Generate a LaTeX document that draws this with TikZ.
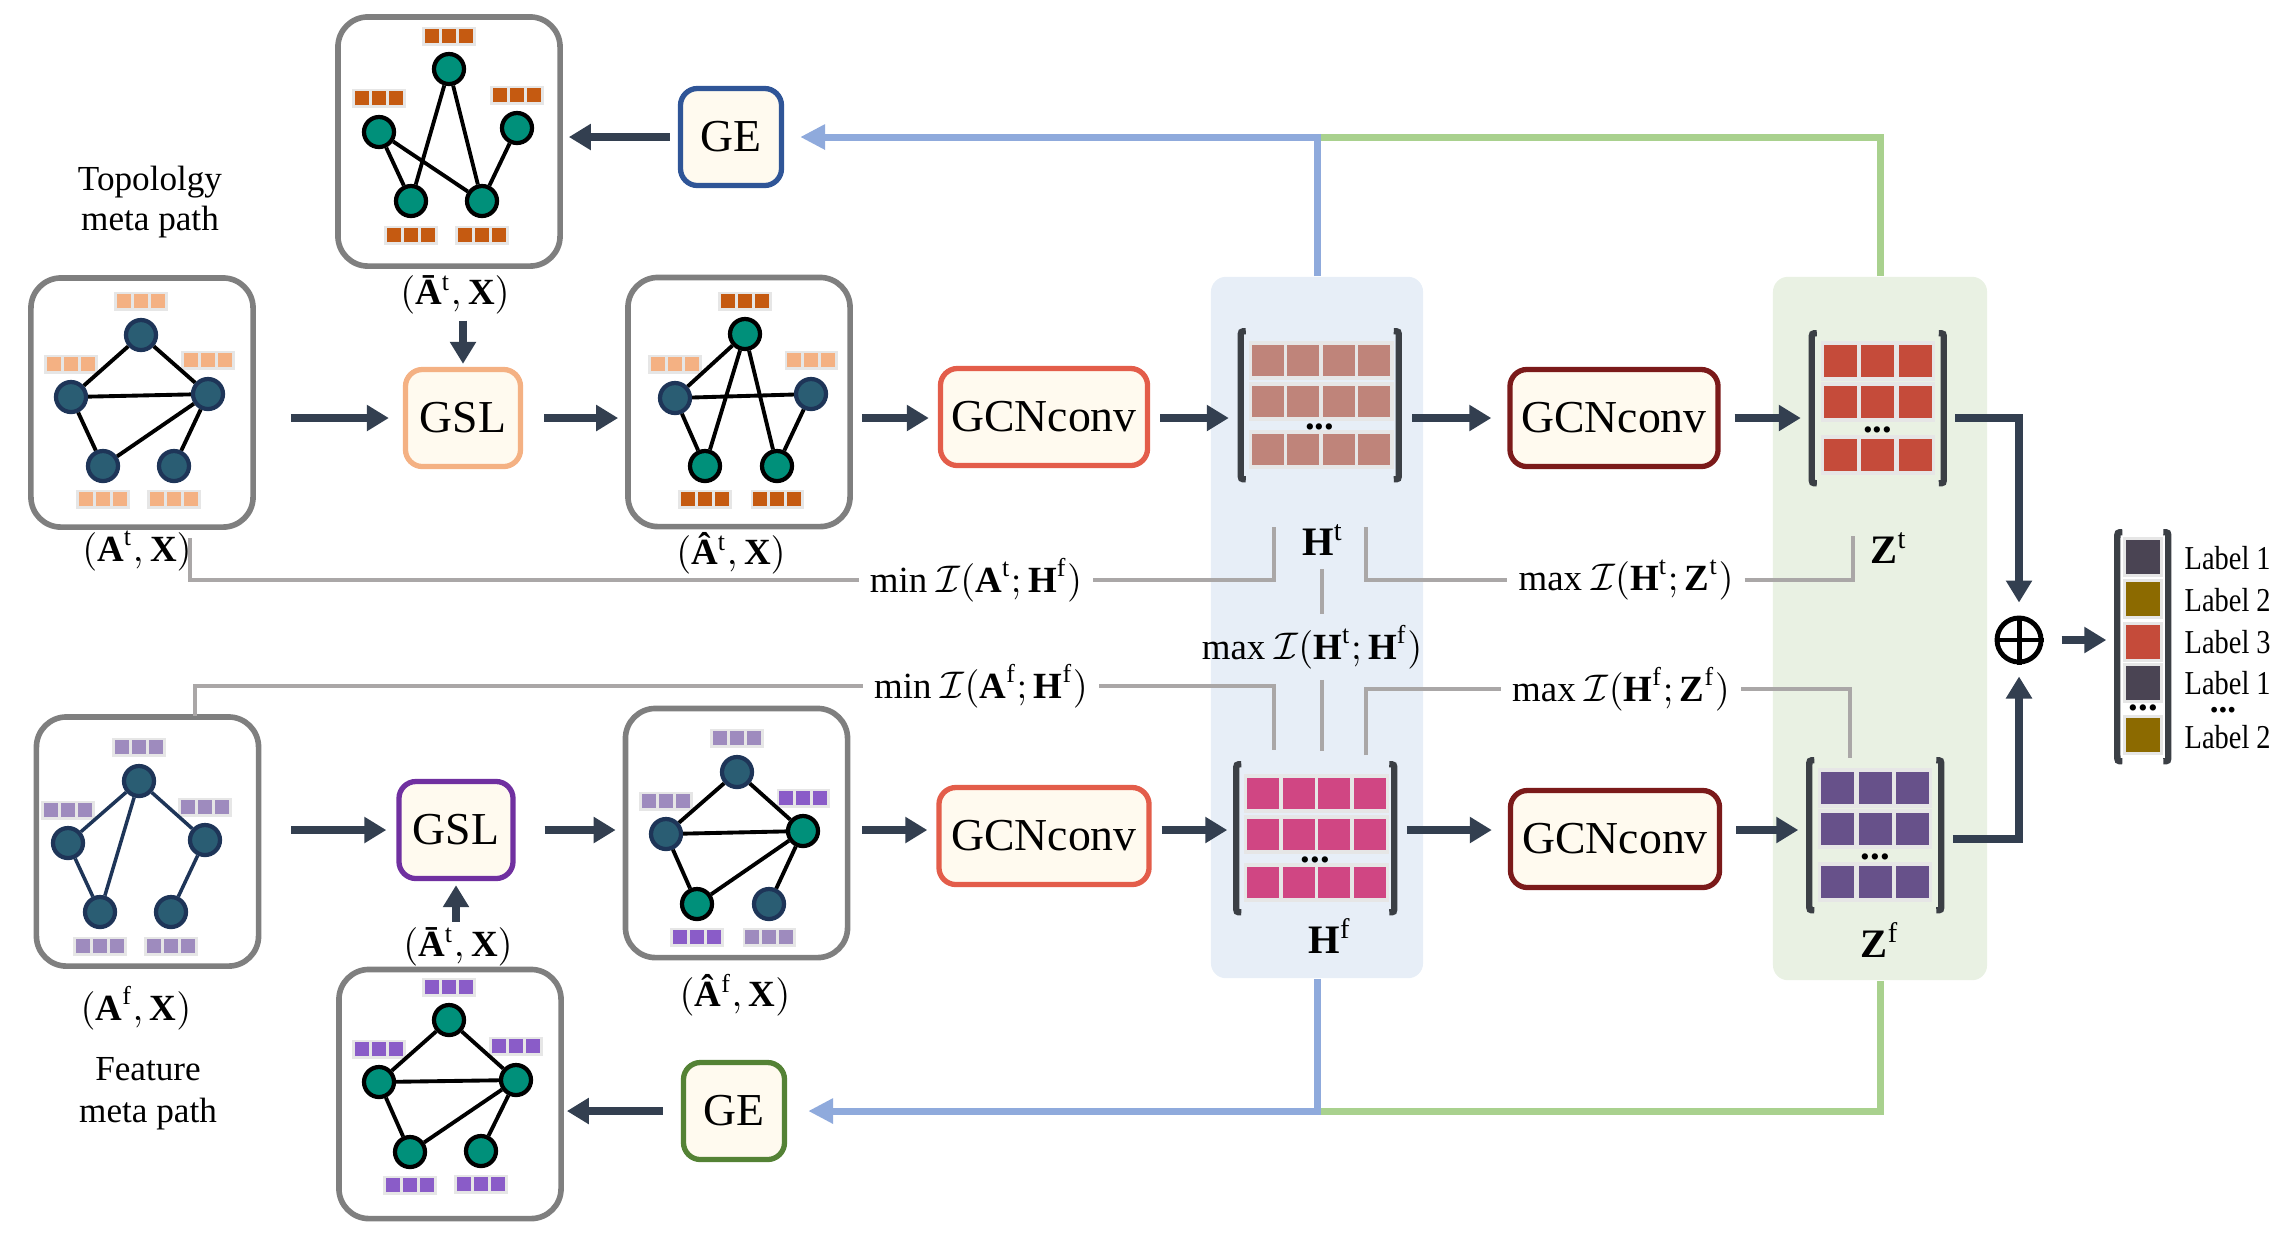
\documentclass[tikz,border=0pt]{standalone}
\usepackage{amsmath,amssymb}
\usepackage{fontspec}
\setmainfont{Liberation Serif}
\newfontfamily\narrowfont[FakeStretch=0.85]{Liberation Serif}
\usetikzlibrary{shapes,arrows.meta}
\definecolor{cream}{HTML}{FFFAEF}
\definecolor{tealnode}{HTML}{00907A}
\definecolor{slatenode}{HTML}{2A5D73}
\definecolor{navyline}{HTML}{1E3558}
\definecolor{featlo}{HTML}{F4B183}
\definecolor{featdo}{HTML}{C55A11}
\definecolor{featlp}{HTML}{9E8BBE}
\definecolor{featdp}{HTML}{8A5CC8}
\definecolor{featbg}{HTML}{E6E6E6}
\definecolor{arrowdark}{HTML}{333F50}
\definecolor{feedb}{HTML}{8FAADC}
\definecolor{feedg}{HTML}{A9D18E}
\definecolor{migray}{HTML}{AAA7A7}
\definecolor{colblue}{HTML}{E7EEF7}
\definecolor{colgreen}{HTML}{E9F1E3}
\definecolor{cellht}{HTML}{BF847A}
\definecolor{cellzt}{HTML}{C54B3A}
\definecolor{cellhf}{HTML}{D04683}
\definecolor{cellzf}{HTML}{67518A}
\definecolor{lab1}{HTML}{4A4453}
\definecolor{lab2}{HTML}{8C6A00}
\definecolor{lab3}{HTML}{C54B3A}
\definecolor{geblue}{HTML}{2F5597}
\definecolor{gslor}{HTML}{F4B183}
\definecolor{gslpu}{HTML}{7030A0}
\definecolor{gcnred}{HTML}{E35D4A}
\definecolor{gcndark}{HTML}{7B1A1A}
\definecolor{gegreen}{HTML}{548235}
\definecolor{boxgray}{HTML}{7F7F7F}
\definecolor{bracketdark}{HTML}{3B3F45}
\tikzstyle{block} = [rectangle, draw, fill=cream, rounded corners=0.17cm,
    line width=1.5pt, minimum height=0.97cm, inner sep=0pt, font=\fontsize{13}{15}\selectfont]
\tikzstyle{graphbox} = [rectangle, draw=boxgray, line width=1.6pt, rounded corners=0.3cm,
    minimum width=2.22cm, minimum height=2.49cm]
\tikzstyle{tnode} = [circle, draw=black, fill=tealnode, line width=1.2pt, minimum size=0.3cm, inner sep=0pt]
\tikzstyle{snode} = [circle, draw=navyline, fill=slatenode, line width=1.2pt, minimum size=0.3cm, inner sep=0pt]
\tikzstyle{edge} = [draw, line width=1.1pt]
\tikzstyle{feat} = [fill=featbg, inner sep=0.025cm]
\tikzstyle{line} = [draw=arrowdark, line width=2.4pt, -{Triangle[length=0.22cm,width=0.25cm]}]
\tikzstyle{feedblue} = [draw=feedb, line width=2pt]
\tikzstyle{feedgreen} = [draw=feedg, line width=2pt]
\tikzstyle{mi} = [draw=migray, line width=1pt]
\tikzstyle{lab} = [font=\fontsize{10.5}{12}\selectfont, inner sep=1pt]
\tikzstyle{labname} = [anchor=west, font=\narrowfont\fontsize{9.5}{11}\selectfont, inner sep=0pt]
\tikzstyle{colbox} = [rectangle, rounded corners=0.15cm, inner sep=0pt]
\tikzstyle{matbox} = [rectangle, inner sep=0pt]
\tikzstyle{dots} = [font=\bfseries\fontsize{11}{11}\selectfont, inner sep=0pt]
\tikzstyle{bracket} = [draw=bracketdark, line width=1.8pt]
\newcommand{\fsq}[1]{\textcolor{#1}{\rule{0.14cm}{0.14cm}}}
\newcommand{\fbar}[1]{\fsq{#1}\hspace{0.03cm}\fsq{#1}\hspace{0.03cm}\fsq{#1}}
\newcommand{\brackets}[2]{%
  \path[bracket] (6,0) .. controls (1,0) .. (1,6) -- (1,#2-6) .. controls (1,#2) .. (6,#2);
  \path[bracket] (#1-6,0) .. controls (#1-1,0) .. (#1-1,6) -- (#1-1,#2-6) .. controls (#1-1,#2) .. (#1-6,#2);}
\newcommand{\hcells}[1]{%
  \foreach \rw in {14,55,103} {%
    \fill[featbg] (9,\rw-4) rectangle +(145,39);
    \foreach \cl in {0,1,2,3} {\fill[#1] (12+35.5*\cl,\rw) rectangle +(32,31);}
  }%
  \node[dots] at (80,96) {...};
  \brackets{160}{148}}
\newcommand{\zcells}[1]{%
  \foreach \rw in {12,53,106} {%
    \fill[featbg] (10,\rw-4) rectangle +(114,40);
    \foreach \cl in {0,1,2} {\fill[#1] (13+37.5*\cl,\rw) rectangle +(33,32);}
  }%
  \node[dots] at (67,97) {...};
  \brackets{134}{150}}

\begin{document}
\begin{tikzpicture}[x=0.01cm, y=-0.01cm]
    \useasboundingbox (0,0) rectangle (2292,1232);
    % Columns
    \node [colbox, fill=colblue, minimum width=2.12cm, minimum height=7.01cm] (colh) at (1317,627.5) {};
    \node [colbox, fill=colgreen, minimum width=2.14cm, minimum height=7.03cm] (colz) at (1880,628.5) {};
    % Graph boxes
    \node [graphbox] (gbart) at (449,141.5) {};
    \node [graphbox] (gat) at (142,402.5) {};
    \node [graphbox] (ghatt) at (739,402) {};
    \node [graphbox] (gaf) at (147.5,841.5) {};
    \node [graphbox] (ghatf) at (736.5,833) {};
    \node [graphbox] (gbarf) at (450,1094) {};
    % Top graph
    \node [tnode] (tb1) at (449,69) {};
    \node [tnode] (tb2) at (379,132) {};
    \node [tnode] (tb3) at (517,128) {};
    \node [tnode] (tb4) at (411,201) {};
    \node [tnode] (tb5) at (482,201) {};
    \node [feat] (tbf1) at (449,36) {\fbar{featdo}};
    \node [feat] (tbf2) at (379,98) {\fbar{featdo}};
    \node [feat] (tbf3) at (517,95) {\fbar{featdo}};
    \node [feat] (tbf4) at (411,235) {\fbar{featdo}};
    \node [feat] (tbf5) at (482,235) {\fbar{featdo}};
    \path [edge] (tb1) -- (tb4) (tb1) -- (tb5) (tb2) -- (tb4) (tb2) -- (tb5) (tb3) -- (tb5);
    % Topology graph
    \node [snode] (at1) at (141,335) {};
    \node [snode] (at2) at (71,397) {};
    \node [snode] (at3) at (208,394) {};
    \node [snode] (at4) at (103,466) {};
    \node [snode] (at5) at (174,466) {};
    \node [feat] (atf1) at (141,301) {\fbar{featlo}};
    \node [feat] (atf2) at (71,364) {\fbar{featlo}};
    \node [feat] (atf3) at (208,360) {\fbar{featlo}};
    \node [feat] (atf4) at (103,499) {\fbar{featlo}};
    \node [feat] (atf5) at (174,499) {\fbar{featlo}};
    \path [edge] (at1) -- (at2) (at1) -- (at3) (at2) -- (at3) (at2) -- (at4) (at4) -- (at3) (at5) -- (at3);
    % Learned topology graph
    \node [tnode] (ht1) at (745,334) {};
    \node [snode] (ht2) at (675,398) {};
    \node [snode] (ht3) at (811,394) {};
    \node [tnode] (ht4) at (705,466) {};
    \node [tnode] (ht5) at (777,466) {};
    \node [feat] (htf1) at (745,301) {\fbar{featdo}};
    \node [feat] (htf2) at (675,364) {\fbar{featlo}};
    \node [feat] (htf3) at (811,360) {\fbar{featlo}};
    \node [feat] (htf4) at (705,499) {\fbar{featdo}};
    \node [feat] (htf5) at (777,499) {\fbar{featdo}};
    \path [edge] (ht1) -- (ht2) (ht1) -- (ht4) (ht1) -- (ht5) (ht2) -- (ht3) (ht2) -- (ht4) (ht3) -- (ht5);
    % Feature graph
    \node [snode] (af1) at (139,781) {};
    \node [snode] (af2) at (68,843) {};
    \node [snode] (af3) at (205,840) {};
    \node [snode] (af4) at (100,912) {};
    \node [snode] (af5) at (171,912) {};
    \node [feat] (aff1) at (139,747) {\fbar{featlp}};
    \node [feat] (aff2) at (68,810) {\fbar{featlp}};
    \node [feat] (aff3) at (205,807) {\fbar{featlp}};
    \node [feat] (aff4) at (100,946) {\fbar{featlp}};
    \node [feat] (aff5) at (171,946) {\fbar{featlp}};
    \path [edge, draw=navyline, line width=1pt] (af1) -- (af2) (af1) -- (af4) (af1) -- (af3) (af2) -- (af4) (af3) -- (af5);
    % Learned feature graph
    \node [snode] (hf1) at (737,772) {};
    \node [snode] (hf2) at (666,834) {};
    \node [tnode] (hf3) at (803,831) {};
    \node [tnode] (hf4) at (697,904) {};
    \node [snode] (hf5) at (769,904) {};
    \node [feat] (hff1) at (737,738) {\fbar{featlp}};
    \node [feat] (hff2) at (666,801) {\fbar{featlp}};
    \node [feat] (hff3) at (803,798) {\fbar{featdp}};
    \node [feat] (hff4) at (697,937) {\fbar{featdp}};
    \node [feat] (hff5) at (769,937) {\fbar{featlp}};
    \path [edge] (hf1) -- (hf2) (hf1) -- (hf3) (hf2) -- (hf3) (hf2) -- (hf4) (hf4) -- (hf3) (hf3) -- (hf5);
    % Bottom graph
    \node [tnode] (fb1) at (449,1020) {};
    \node [tnode] (fb2) at (379,1082) {};
    \node [tnode] (fb3) at (516,1080) {};
    \node [tnode] (fb4) at (410,1152) {};
    \node [tnode] (fb5) at (481,1151) {};
    \node [feat] (fbf1) at (449,987) {\fbar{featdp}};
    \node [feat] (fbf2) at (379,1049) {\fbar{featdp}};
    \node [feat] (fbf3) at (516,1046) {\fbar{featdp}};
    \node [feat] (fbf4) at (410,1185) {\fbar{featdp}};
    \node [feat] (fbf5) at (481,1184) {\fbar{featdp}};
    \path [edge] (fb1) -- (fb2) (fb1) -- (fb3) (fb2) -- (fb3) (fb2) -- (fb4) (fb4) -- (fb3) (fb5) -- (fb3);
    % Blocks
    \node [block, draw=geblue, minimum width=1.01cm] (ge1) at (731,137) {GE};
    \node [block, draw=gslor, minimum width=1.15cm] (gsl1) at (463,418) {GSL};
    \node [block, draw=gcnred, minimum width=2.07cm] (gcn1) at (1044,417) {GCNconv};
    \node [block, draw=gcndark, minimum width=2.08cm] (gcn2) at (1614,418) {GCNconv};
    \node [block, draw=gslpu, minimum width=1.14cm] (gsl2) at (456,830) {GSL};
    \node [block, draw=gcnred, minimum width=2.1cm] (gcn3) at (1044,836) {GCNconv};
    \node [block, draw=gcndark, minimum width=2.09cm] (gcn4) at (1615,839) {GCNconv};
    \node [block, draw=gegreen, minimum width=1.01cm] (ge2) at (734,1111) {GE};
    % Texts
    \node [align=center, font=\fontsize{10}{11.2}\selectfont] (ttop) at (150,202) {Topololgy\\meta path};
    \node [align=center, font=\fontsize{10}{12}\selectfont] (tfeat) at (148,1094) {Feature\\meta path};
    \node [lab] (lbart) at (455,295) {$(\textbf{Ā}{}^{\text{t}},\textbf{X})$};
    \node [lab] (lat) at (137,551) {$(\textbf{A}^{\text{t}},\textbf{X})$};
    \node [lab] (lhatt) at (731,553) {$(\textbf{Â}{}^{\text{t}},\textbf{X})$};
    \node [lab] (laf) at (136,1008) {$(\textbf{A}^{\text{f}},\textbf{X})$};
    \node [lab] (lbarf) at (458,947) {$(\textbf{Ā}{}^{\text{t}},\textbf{X})$};
    \node [lab] (lhatf) at (735,995) {$(\textbf{Â}{}^{\text{f}},\textbf{X})$};
    % Matrices
    \node [matbox, minimum width=1.6cm, minimum height=1.48cm] (mht) at (1320.5,406) {};
    \node [matbox, minimum width=1.34cm, minimum height=1.5cm] (mzt) at (1878.5,409) {};
    \node [matbox, minimum width=1.6cm, minimum height=1.48cm] (mhf) at (1316,839) {};
    \node [matbox, minimum width=1.34cm, minimum height=1.5cm] (mzf) at (1876,836) {};
    \begin{scope}[shift={(mht.north west)}] \hcells{cellht} \end{scope}
    \begin{scope}[shift={(mzt.north west)}] \zcells{cellzt} \end{scope}
    \begin{scope}[shift={(mhf.north west)}] \hcells{cellhf} \end{scope}
    \begin{scope}[shift={(mzf.north west)}] \zcells{cellzf} \end{scope}
    \node [lab, font=\fontsize{11.5}{12}\selectfont] (lht) at (1323,540) {$\textbf{H}^{\text{t}}$};
    \node [lab, font=\fontsize{11.5}{12}\selectfont] (lzt) at (1889,548) {$\textbf{Z}^{\text{t}}$};
    \node [lab, font=\fontsize{11.5}{12}\selectfont] (lhf) at (1330,936) {$\textbf{H}^{\text{f}}$};
    \node [lab, font=\fontsize{11.5}{12}\selectfont] (lzf) at (1880,940) {$\textbf{Z}^{\text{f}}$};
    % Mutual information texts
    \node [lab, inner sep=3pt] (mi1) at (976,580) {min $\mathcal{I}(\textbf{A}^{\text{t}};\textbf{H}^{\text{f}})$};
    \node [lab, inner sep=3pt] (mi2) at (981,686) {min $\mathcal{I}(\textbf{A}^{\text{f}};\textbf{H}^{\text{f}})$};
    \node [lab, inner sep=3pt] (mi3) at (1312,647) {max $\mathcal{I}(\textbf{H}^{\text{t}};\textbf{H}^{\text{f}})$};
    \node [lab, inner sep=3pt] (mi4) at (1626,580) {max $\mathcal{I}(\textbf{H}^{\text{t}};\textbf{Z}^{\text{t}})$};
    \node [lab, inner sep=3pt] (mi5) at (1621,689) {max $\mathcal{I}(\textbf{H}^{\text{f}};\textbf{Z}^{\text{f}})$};
    \coordinate (c1) at (190,538);
    \coordinate (c2) at (1274,527);
    \coordinate (c3) at (195,716);
    \coordinate (c4) at (1274,750);
    \coordinate (c5) at (1322,569);
    \coordinate (c6) at (1322,751);
    \coordinate (c7) at (1366,527);
    \coordinate (c8) at (1853,536);
    \coordinate (c9) at (1366,755);
    \coordinate (c10) at (1850,758);
    \path [mi] (c1) |- (mi1.west);
    \path [mi] (mi1.east) -| (c2);
    \path [mi] (c3) |- (mi2.west);
    \path [mi] (mi2.east) -| (c4);
    \path [mi] (c5) -- (c5 |- mi3.north);
    \path [mi] (c5 |- mi3.south) -- (c6);
    \path [mi] (c7) |- (mi4.west);
    \path [mi] (mi4.east) -| (c8);
    \path [mi] (c9) |- (mi5.west);
    \path [mi] (mi5.east) -| (c10);
    % Output
    \node [circle, draw, line width=1.4pt, minimum size=0.44cm, inner sep=0pt] (oplus) at (2019,640) {};
    \path [draw, line width=1.4pt] (oplus.north) -- (oplus.south) (oplus.west) -- (oplus.east);
    \node [matbox, minimum width=0.53cm, minimum height=2.29cm] (lvec) at (2143.5,647.5) {};
    \begin{scope}[shift={(lvec.north west)}]
      \foreach \rw/\cl in {8/lab1, 50/lab2, 93/lab3, 134/lab1, 186/lab2} {
        \fill[featbg] (7,\rw-3) rectangle +(40,40);
        \fill[\cl] (10,\rw) rectangle +(34,34);}
      \node [dots] at (27,176) {...};
      \brackets{53}{229}
    \end{scope}
    \node [labname] (l1) at (2184,558) {Label 1};
    \node [labname] (l2) at (2184,600) {Label 2};
    \node [labname] (l3) at (2184,642) {Label 3};
    \node [labname] (l4) at (2184,683) {Label 1};
    \node [dots, font=\bfseries\fontsize{10}{10}\selectfont] (ldots) at (2223,710) {...};
    \node [labname] (l5) at (2184,737) {Label 2};
    % Feedback paths
    \path [feedgreen] (colz.north) |- (colh.north |- ge1.east);
    \path [feedblue, -{Triangle[length=0.25cm,width=0.24cm]}, shorten >=0.16cm] (colh.north) |- (ge1.east);
    \path [feedgreen] (colz.south) |- (colh.south |- ge2.east);
    \path [feedblue, -{Triangle[length=0.25cm,width=0.24cm]}, shorten >=0.21cm] (colh.south) |- (ge2.east);
    % Paths
    \path [line, shorten <=0.35cm, shorten >=0.14cm] (gat.east |- gsl1.west) -- (gsl1.west);
    \path [line, shorten <=0.21cm, shorten >=0.07cm] (gsl1.east) -- (ghatt.west |- gsl1.east);
    \path [line, shorten <=0.09cm, shorten >=0.09cm] (ghatt.east |- gsl1.east) -- (gcn1.west |- gsl1.east);
    \path [line, shorten <=0.1cm, shorten >=0.11cm] (gcn1.east |- gsl1.east) -- (mht.west |- gsl1.east);
    \path [line, shorten <=0.11cm, shorten >=0.16cm] (mht.east |- gsl1.east) -- (gcn2.west |- gsl1.east);
    \path [line, shorten <=0.14cm, shorten >=0.1cm] (gcn2.east |- gsl1.east) -- (mzt.west |- gsl1.east);
    \path [line, shorten <=0.3cm, shorten >=0.1cm] (gaf.east |- gsl2.west) -- (gsl2.west);
    \path [line, shorten <=0.29cm, shorten >=0.07cm] (gsl2.east) -- (ghatf.west |- gsl2.east);
    \path [line, shorten <=0.12cm, shorten >=0.09cm] (ghatf.east |- gsl2.east) -- (gcn3.west |- gsl2.east);
    \path [line, shorten <=0.1cm, shorten >=0.08cm] (gcn3.east |- gsl2.east) -- (mhf.west |- gsl2.east);
    \path [line, shorten <=0.1cm, shorten >=0.16cm] (mhf.east |- gsl2.east) -- (gcn4.west |- gsl2.east);
    \path [line, shorten <=0.14cm, shorten >=0.1cm] (gcn4.east |- gsl2.east) -- (mzf.west |- gsl2.east);
    \path [line, shorten <=0.02cm, shorten >=0.03cm] (gsl1.north |- lbart.south) -- (gsl1.north);
    \path [line, shorten <=0.02cm, shorten >=0.04cm] (gsl2.south |- lbarf.north) -- (gsl2.south);
    \path [line, shorten <=0.08cm, shorten >=0.06cm] (ge1.west) -- (gbart.east |- ge1.west);
    \path [line, shorten <=0.18cm, shorten >=0.03cm] (ge2.west) -- (gbarf.east |- ge2.west);
    \path [line, shorten <=0.09cm, shorten >=0.13cm] (mzt.east |- gcn2.east) -| (oplus.north);
    \path [line, shorten <=0.09cm, shorten >=0.12cm] (mzf.east |- gcn4.east) -| (oplus.south);
    \path [line, shorten <=0.18cm, shorten >=0.1cm] (oplus.east) -- (lvec.west |- oplus.east);
\end{tikzpicture}
\end{document}
